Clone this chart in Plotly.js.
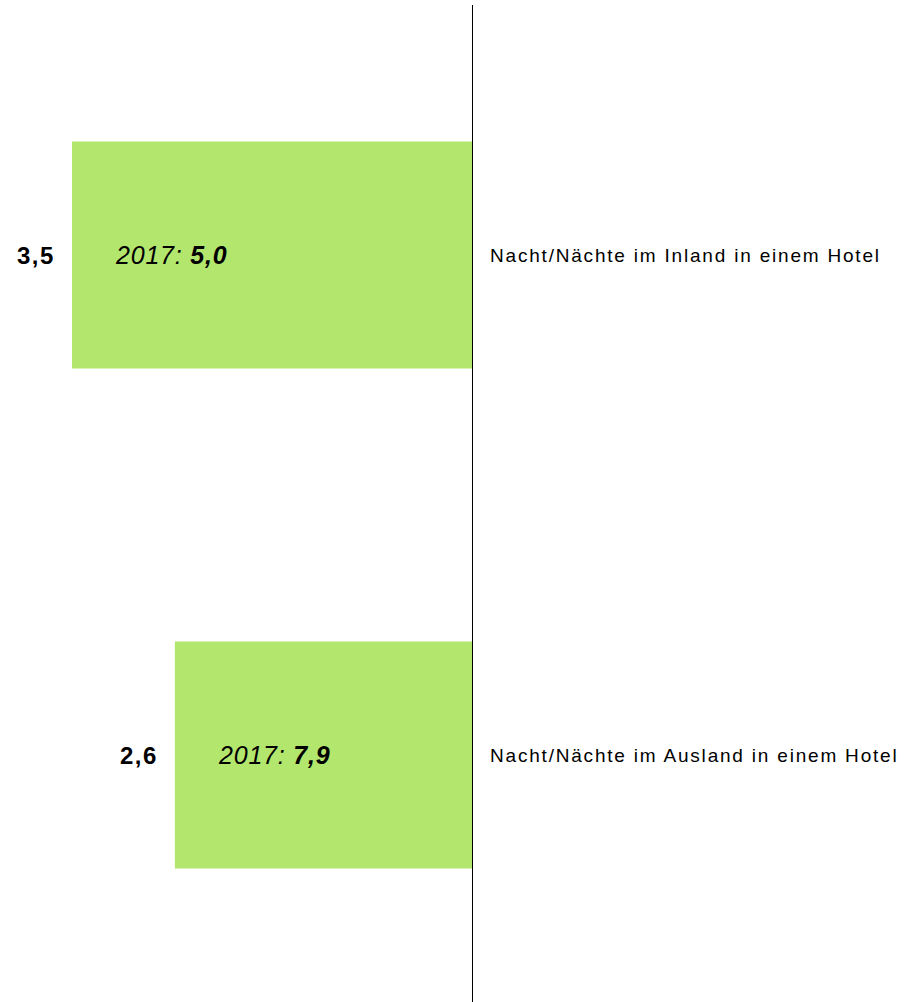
<!DOCTYPE html>
<html>
<head>
<meta charset="utf-8">
<script src="https://cdn.plot.ly/plotly-3.0.1.min.js"></script>
<style>html,body{margin:0;padding:0;background:#fff}#chart{width:908px;height:1002px}</style>
</head>
<body>
<div id="chart"></div>
<script>
var categories = ["Nacht/Nächte im Inland in einem Hotel", "Nacht/Nächte im Ausland in einem Hotel"];
var values2019 = [3.5, 2.6];
var values2017 = [5.0, 7.9];
var valueLabels = ["3,5", "2,6"];
var priorLabels = ["5,0", "7,9"];
var priorYear = "2017";

var FONT = "Liberation Sans, Arial, sans-serif";

function spaced(txt, px) {
  return '<span style="letter-spacing:' + px + 'px">' + txt + '</span>';
}

var trace = {
  type: "bar",
  orientation: "h",
  x: values2019,
  y: categories,
  width: 0.454,
  marker: {color: "#b3e66d", line: {width: 0}},
  hoverinfo: "none"
};

var annotations = [];
for (var i = 0; i < categories.length; i++) {
  annotations.push({
    x: values2019[i], y: categories[i], xref: "x", yref: "y",
    text: spaced("<b>" + valueLabels[i] + "</b>", 1.5),
    showarrow: false, xanchor: "right", yanchor: "middle", xshift: -15,
    font: {family: FONT, size: 24, color: "#000"}
  });
  annotations.push({
    x: values2019[i], y: categories[i], xref: "x", yref: "y",
    text: spaced("<i>" + priorYear + ": <b>" + priorLabels[i] + "</b></i>", 0.8),
    showarrow: false, xanchor: "left", yanchor: "middle", xshift: 41,
    font: {family: FONT, size: 25, color: "#000"}
  });
  annotations.push({
    x: 0, y: categories[i], xref: "x", yref: "y",
    text: spaced(categories[i], 1.8),
    showarrow: false, xanchor: "left", yanchor: "middle", xshift: 16,
    font: {family: FONT, size: 19, color: "#000"}
  });
}

var layout = {
  width: 908, height: 1002,
  margin: {l: 0, r: 0, t: 5, b: 0, pad: 0},
  paper_bgcolor: "#fff", plot_bgcolor: "#fff",
  showlegend: false,
  xaxis: {
    range: [4.13, -3.815],
    showgrid: false, showticklabels: false, ticks: "",
    zeroline: true, zerolinecolor: "#000", zerolinewidth: 1,
    showline: false, fixedrange: true
  },
  yaxis: {
    type: "category",
    range: [1.494, -0.5],
    showgrid: false, showticklabels: false, ticks: "",
    zeroline: false, showline: false, fixedrange: true
  },
  annotations: annotations
};

Plotly.newPlot("chart", [trace], layout, {staticPlot: true, displayModeBar: false});
</script>
</body>
</html>
